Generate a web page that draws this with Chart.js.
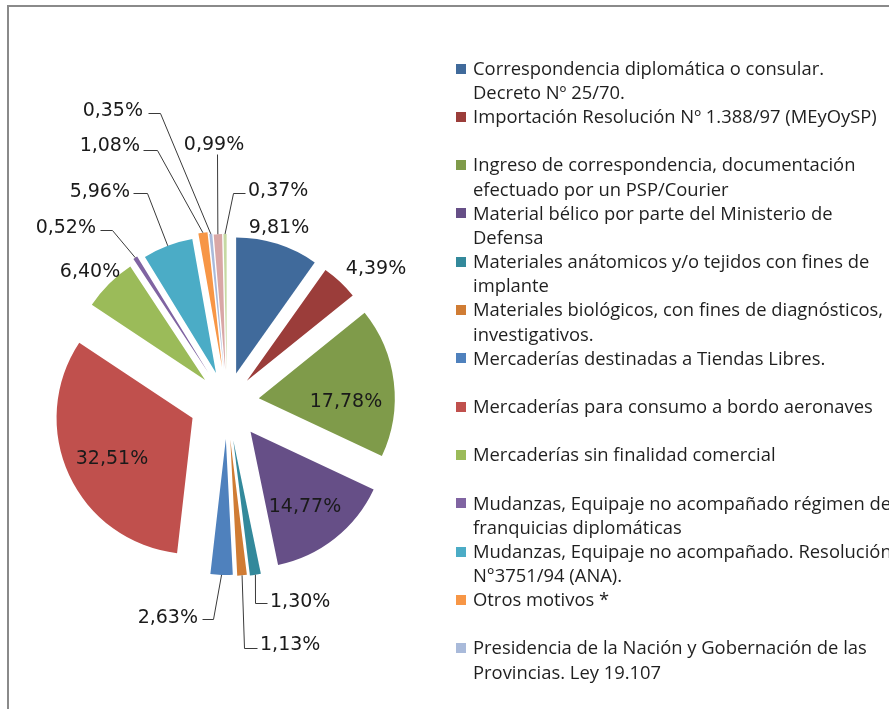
<!DOCTYPE html>
<html>
<head>
<meta charset="utf-8">
<script src="https://cdn.jsdelivr.net/npm/chart.js@4.4.1/dist/chart.umd.min.js"></script>
<style>
html,body{margin:0;padding:0;background:#fff;width:889px;height:709px;overflow:hidden;}
#frame{position:absolute;left:7px;top:5px;width:1000px;height:1000px;border-left:2px solid #8a8a8a;border-top:2px solid #8a8a8a;box-sizing:border-box;}
#c{position:absolute;left:0;top:0;}
#legend{position:absolute;left:0;top:0;width:889px;height:709px;font-family:'Open Sans',sans-serif;font-size:18.4px;color:#1f1f1f;}
.sw{position:absolute;width:10px;height:10px;}
.tx{position:absolute;left:473px;line-height:24.2px;white-space:pre;}
</style>
</head>
<body>
<div id="frame"></div>
<canvas id="c" width="889" height="709"></canvas>
<div id="legend"></div>
<script>
// ---- data ----
const categories = [
  "Correspondencia diplomática o consular.\nDecreto Nº 25/70.",
  "Importación Resolución Nº 1.388/97 (MEyOySP)",
  "Ingreso de correspondencia, documentación\nefectuado por un PSP/Courier",
  "Material bélico por parte del Ministerio de\nDefensa",
  "Materiales anátomicos y/o tejidos con fines de\nimplante",
  "Materiales biológicos, con fines de diagnósticos,\ninvestigativos.",
  "Mercaderías destinadas a Tiendas Libres.",
  "Mercaderías para consumo a bordo aeronaves",
  "Mercaderías sin finalidad comercial",
  "Mudanzas, Equipaje no acompañado régimen de\nfranquicias diplomáticas",
  "Mudanzas, Equipaje no acompañado. Resolución\nN°3751/94 (ANA).",
  "Otros motivos *",
  "Presidencia de la Nación y Gobernación de las\nProvincias. Ley 19.107",
  "",
  ""
];
const shares = [9.81, 4.39, 17.78, 14.77, 1.30, 1.13, 2.63, 32.51, 6.40, 0.52, 5.96, 1.08, 0.35, 0.99, 0.37];
const valueLabels = ["9,81%", "4,39%", "17,78%", "14,77%", "1,30%", "1,13%", "2,63%", "32,51%", "6,40%", "0,52%", "5,96%", "1,08%", "0,35%", "0,99%", "0,37%"];

// ---- styles ----
const colors = ['#406A9B','#9B3D3A','#7F9B4A','#664F87','#33899B','#D07C34','#4F81BD','#C0504D','#9BBB59','#8064A2','#4BACC6','#F79646','#A9BADA','#D9A7A6','#C6D9A2'];
const explode = [30, 29, 32, 38, 39, 38, 37, 38, 31, 35, 31, 35, 33, 32, 32];
// label placement relative to pie centre: [x, y, align, leader points...]
const labelPos = [
  {x:52,  y:-176, a:'center'},
  {x:149, y:-135, a:'center'},
  {x:119, y:-2,   a:'center'},
  {x:78,  y:103,  a:'center'},
  {x:43,  y:198,  a:'left',  pts:[[28,201],[40,201]]},
  {x:33,  y:241,  a:'left',  pts:[[17,246],[30,246]]},
  {x:-29, y:214,  a:'right', pts:[[-14,217],[-25,217]]},
  {x:-115,y:55,   a:'center'},
  {x:-137,y:-132, a:'center'},
  {x:-131,y:-176, a:'right', pts:[[-115,-172],[-127,-172]]},
  {x:-97, y:-212, a:'right', pts:[[-80,-209],[-94,-209]]},
  {x:-87, y:-258, a:'right', pts:[[-70,-252],[-84,-252]]},
  {x:-84, y:-293, a:'right', pts:[[-67,-289],[-79,-289]]},
  {x:-13, y:-259, a:'center',pts:[[-10,-248]]},
  {x:21,  y:-213, a:'left',  pts:[[6,-209],[18,-209]]}
];

const explodePlugin = {
  id: 'explode',
  afterDatasetsUpdate(chart) {
    const ca = chart.chartArea;
    const cx = (ca.left + ca.right) / 2, cy = (ca.top + ca.bottom) / 2;
    chart.getDatasetMeta(0).data.forEach((el, i) => {
      const mid = (el.startAngle + el.endAngle) / 2;
      el.x = cx + explode[i] * Math.cos(mid);
      el.y = cy + explode[i] * Math.sin(mid);
    });
  }
};

const labelPlugin = {
  id: 'sliceLabels',
  afterDatasetsDraw(chart) {
    const ctx = chart.ctx;
    const ca = chart.chartArea;
    const cx = (ca.left + ca.right) / 2, cy = (ca.top + ca.bottom) / 2;
    const meta = chart.getDatasetMeta(0);
    ctx.save();
    ctx.font = '19px "DejaVu Sans"';
    ctx.fillStyle = '#1a1a1a';
    ctx.strokeStyle = '#3a3a3a';
    ctx.lineWidth = 1;
    meta.data.forEach((el, i) => {
      const p = labelPos[i];
      const mid = (el.startAngle + el.endAngle) / 2;
      if (p.pts) {
        ctx.beginPath();
        ctx.moveTo(el.x + el.outerRadius * Math.cos(mid), el.y + el.outerRadius * Math.sin(mid));
        p.pts.forEach(q => ctx.lineTo(cx + q[0] + 0.5, cy + q[1] + 0.5));
        ctx.stroke();
      }
      ctx.textAlign = p.a;
      ctx.textBaseline = 'alphabetic';
      ctx.fillText(chart.data.datasets[0].labelsText[i], cx + p.x, cy + p.y + 7);
    });
    ctx.restore();
  }
};

const chart = new Chart(document.getElementById('c'), {
  type: 'pie',
  data: {
    labels: categories,
    datasets: [{
      data: shares,
      labelsText: valueLabels,
      backgroundColor: colors,
      borderWidth: 0
    }]
  },
  options: {
    responsive: false,
    animation: false,
    events: [],
    radius: 136,
    layout: { padding: { left: 0, right: 435, top: 95, bottom: 0 } },
    plugins: { legend: { display: false }, tooltip: { enabled: false } }
  },
  plugins: [explodePlugin, labelPlugin]
});

// HTML legend built from chart data
const legend = document.getElementById('legend');
chart.data.labels.forEach((lab, i) => {
  if (!lab) return;
  const base = 75 + i * 48.3;
  const sw = document.createElement('div');
  sw.className = 'sw';
  sw.style.left = '456px';
  sw.style.top = (base - 11.5) + 'px';
  sw.style.background = chart.data.datasets[0].backgroundColor[i];
  legend.appendChild(sw);
  const tx = document.createElement('div');
  tx.className = 'tx';
  tx.style.top = (base - 19.2) + 'px';
  tx.textContent = lab;
  legend.appendChild(tx);
});
</script>
</body>
</html>
